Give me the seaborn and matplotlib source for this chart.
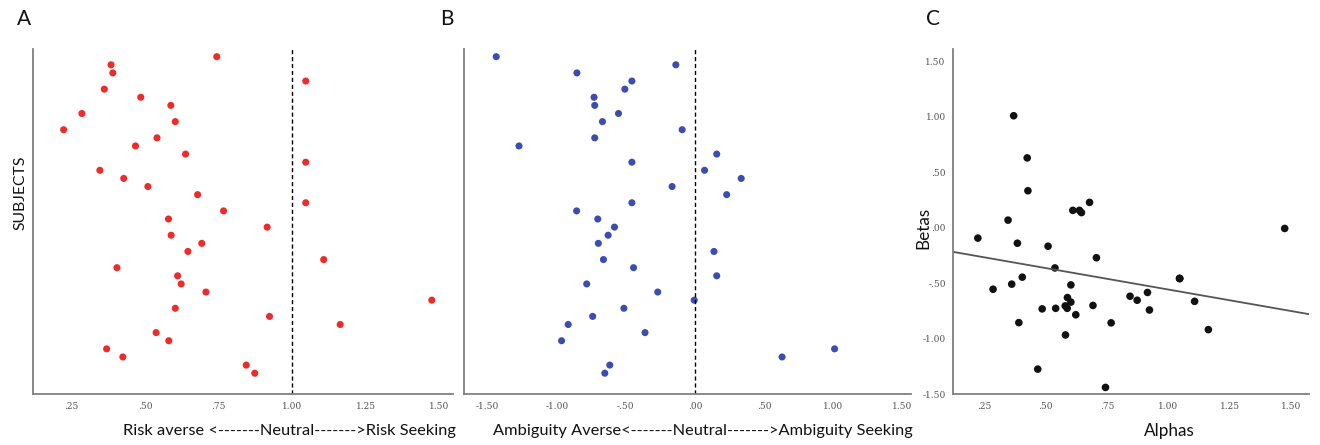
import numpy as np
import pandas as pd
import matplotlib
matplotlib.use("Agg")
import matplotlib.pyplot as plt
import seaborn as sns

# risk (alpha) and ambiguity (beta) per subject, top to bottom in panels A/B
alphas = [0.744, 0.385, 0.391, 1.046, 0.362, 0.486, 0.588, 0.286, 0.603, 0.224,
          0.541, 0.468, 0.638, 1.046, 0.347, 0.428, 0.510, 0.679, 1.046, 0.767,
          0.580, 0.915, 0.589, 0.693, 0.646, 1.107, 0.405, 0.611, 0.623, 0.707,
          1.474, 0.603, 0.923, 1.163, 0.538, 0.581, 0.370, 0.425, 0.844, 0.873]
betas = [-1.438, -0.138, -0.854, -0.456, -0.507, -0.730, -0.725, -0.553, -0.669, -0.092,
         -0.725, -1.273, 0.158, -0.456, 0.070, 0.335, -0.165, 0.230, -0.456, -0.856,
         -0.703, -0.582, -0.628, -0.699, 0.138, -0.662, -0.444, 0.158, -0.783, -0.269,
         -0.005, -0.514, -0.740, -0.917, -0.361, -0.965, 1.011, 0.631, -0.616, -0.652]
subjects = list(range(1, len(alphas) + 1))

a_ticks = [0.25, 0.50, 0.75, 1.00, 1.25, 1.50]
a_ticklabels = [".25", ".50", ".75", "1.00", "1.25", "1.50"]
b_ticks = [-1.5, -1.0, -0.5, 0.0, 0.5, 1.0, 1.5]
b_ticklabels = ["-1.50", "-1.00", "-.50", ".00", ".50", "1.00", "1.50"]

df = pd.DataFrame({"Subject": subjects, "Alphas": alphas, "Betas": betas})

sns.set_style("white")
plt.rcParams["font.family"] = ["Lato", "DejaVu Sans"]

fig = plt.figure(figsize=(13.2, 4.45), dpi=100)
W, H = 1320, 445
def add_ax(l, r, t, b):
    return fig.add_axes([l / W, 1 - b / H, (r - l) / W, (b - t) / H])

axA = add_ax(33, 452.7, 49.3, 394.3)
axB = add_ax(464.3, 911, 49.3, 394.3)
axC = add_ax(953.3, 1309, 49.3, 394.3)

spine_col = "#808080"
tick_font = dict(fontsize=6.5, color="#555555", family="DejaVu Serif")
lab_font = dict(fontsize=11.8, color="#111111", va="center", ha="center")

def style(ax):
    for s in ["top", "right"]:
        ax.spines[s].set_visible(False)
    for s in ["left", "bottom"]:
        ax.spines[s].set_color(spine_col)
        ax.spines[s].set_linewidth(1.3)
    ax.tick_params(axis="both", which="both", direction="out", color=spine_col,
                   length=3.5, width=1, pad=2)

# Panel A
sns.scatterplot(data=df, x="Alphas", y="Subject", ax=axA, color="#ec2b2b",
                s=26, edgecolor="none")
axA.axvline(1.0, color="black", ls=(0, (3, 2)), lw=1)
axA.set_xlim(0.12, 1.545)
axA.set_ylim(42.6, 0.09)
axA.set_xticks(a_ticks)
axA.set_xticklabels(a_ticklabels, **tick_font)
axA.set_yticks(subjects)
axA.set_yticklabels([])
axA.set_xlabel("Risk averse <-------Neutral------->Risk Seeking", **lab_font)
axA.xaxis.set_label_coords(0.61, -0.106)
axA.set_ylabel("SUBJECTS", fontsize=11.3, color="#111111", va="center", ha="center")
axA.yaxis.set_label_coords(-0.029, 0.583)
style(axA)
axA.tick_params(axis="y", length=2)

# Panel B
sns.scatterplot(data=df, x="Betas", y="Subject", ax=axB, color="#3c4db0",
                s=26, edgecolor="none")
axB.axvline(0.0, color="black", ls=(0, (3, 2)), lw=1)
axB.set_xlim(-1.669, 1.564)
axB.set_ylim(42.6, 0.09)
axB.set_xticks(b_ticks)
axB.set_xticklabels(b_ticklabels, **tick_font)
axB.set_yticks([])
axB.set_xlabel("Ambiguity Averse<-------Neutral------->Ambiguity Seeking", **lab_font)
axB.xaxis.set_label_coords(0.534, -0.106)
axB.set_ylabel("")
style(axB)

# Panel C
axC.set_xlim(0.124, 1.573)
axC.set_ylim(-1.5, 1.61)
sns.regplot(data=df, x="Alphas", y="Betas", ax=axC, ci=None, truncate=False,
            scatter_kws=dict(color="#111111", s=30, edgecolor="none", alpha=1),
            line_kws=dict(color="#555555", lw=1.3))
axC.set_xlim(0.124, 1.573)
axC.set_ylim(-1.5, 1.61)
axC.set_xticks(a_ticks)
axC.set_xticklabels(a_ticklabels, **tick_font)
axC.set_yticks(b_ticks)
axC.set_yticklabels(b_ticklabels, **tick_font)
axC.set_xlabel("Alphas", fontsize=12.3, color="#111111", va="center", ha="center")
axC.xaxis.set_label_coords(0.606, -0.106)
axC.set_ylabel("Betas", fontsize=12.3, color="#111111", va="center", ha="center")
axC.yaxis.set_label_coords(-0.085, 0.482)
style(axC)

for lab, x in [("A", 24), ("B", 447), ("C", 933)]:
    fig.text(x / W, 1 - 19 / H, lab, fontsize=15, ha="center", va="center",
             color="#111111")

fig.savefig("out.png", dpi=100)
